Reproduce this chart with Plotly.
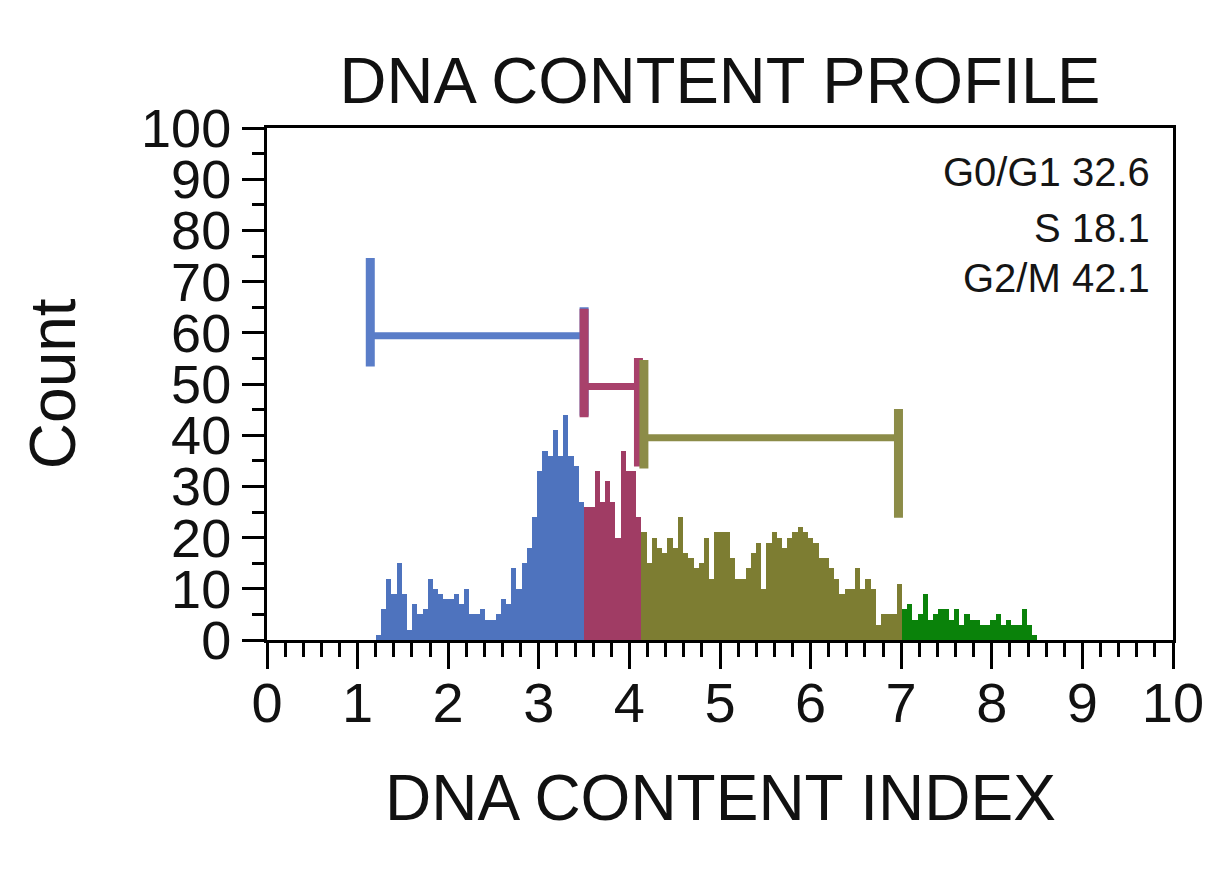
import plotly.graph_objects as go

# histogram bins (DNA content index), one count list per gate
BIN_WIDTH = 0.0575
G0G1_START = 1.20
G0G1_COUNTS = [1, 6, 12, 9, 15, 9, 2, 7, 5, 6, 12, 10, 9, 8, 8, 9, 7, 10, 5, 5,
               6, 4, 4, 5, 8, 7, 14, 10, 15, 18, 24, 33, 37, 36, 41, 36, 44, 36, 34, 27]
S_COUNTS = [26, 26, 33, 27, 31, 27, 20, 37, 33, 33, 24]
G2M_COUNTS = [21, 15, 20, 18, 17, 20, 18, 24, 17, 16, 14, 15, 20, 12, 21, 21, 21, 16, 12, 12,
              14, 17, 19, 10, 19, 21, 20, 18, 20, 21, 22, 21, 20, 19, 16, 16, 14, 12, 9, 10,
              10, 14, 10, 12, 10, 3, 5, 5, 5, 11]
TAIL_COUNTS = [6, 7, 4, 5, 9, 4, 5, 6, 6, 4, 6, 3, 5, 4, 4, 3, 3, 4, 5, 3, 4, 3, 3, 6, 3, 1]

# gate markers: (left, right, level)
GATES = {
    "G0/G1": (1.14, 3.50, 59.4),
    "S": (3.50, 4.10, 49.5),
    "G2/M": (4.16, 6.97, 39.5),
}
STATS = [("G0/G1", 32.6), ("S", 18.1), ("G2/M", 42.1)]

BAR_COLORS = ["#4E73BE", "#A03C64", "#7D7D32", "#0A820A"]
GATE_COLORS = {"G0/G1": "#5A7DC8", "S": "#A8416B", "G2/M": "#8C8C48"}
FONT = "Liberation Sans, Arial, sans-serif"

fig = go.Figure()

start = G0G1_START
for counts, color in zip([G0G1_COUNTS, S_COUNTS, G2M_COUNTS, TAIL_COUNTS], BAR_COLORS):
    fig.add_trace(go.Bar(
        y=counts, x0=start + BIN_WIDTH / 2, dx=BIN_WIDTH, width=BIN_WIDTH,
        marker=dict(color=color, line=dict(width=0)), showlegend=False,
    ))
    start += len(counts) * BIN_WIDTH

for name, (xl, xr, lvl) in GATES.items():
    c = GATE_COLORS[name]
    fig.add_trace(go.Scatter(x=[xl, xr], y=[lvl, lvl], mode="lines",
                             line=dict(color=c, width=7), showlegend=False))
    fig.add_trace(go.Scatter(x=[xl, xl], y=[lvl - 6, lvl + 15.2], mode="lines",
                             line=dict(color=c, width=9), showlegend=False))
    fig.add_trace(go.Scatter(x=[xr, xr], y=[lvl - 15.6, lvl + 5.6], mode="lines",
                             line=dict(color=c, width=9), showlegend=False))

stat_y = [0.914, 0.805, 0.707]
for (name, val), yy in zip(STATS, stat_y):
    fig.add_annotation(text=f"{name} {val}", x=0.977, y=yy, xref="paper", yref="paper",
                       xanchor="right", yanchor="middle", showarrow=False,
                       font=dict(family=FONT, size=40, color="#151515"))

fig.add_annotation(text="DNA CONTENT INDEX", x=0.5, y=-0.309, xref="paper", yref="paper",
                   xanchor="center", yanchor="middle", showarrow=False,
                   font=dict(family=FONT, size=64, color="#111111"))
fig.add_annotation(text="Count", x=-0.236, y=0.5, xref="paper", yref="paper",
                   textangle=-90, xanchor="center", yanchor="middle", showarrow=False,
                   font=dict(family=FONT, size=64, color="#111111"))

axis_common = dict(
    showline=True, linecolor="black", linewidth=3, mirror=True,
    showgrid=False, zeroline=False, ticks="outside", tickcolor="black", tickwidth=3,
)
fig.update_xaxes(range=[0, 10], dtick=1, ticklen=26, ticklabelstandoff=-14,
                 minor=dict(dtick=0.2, ticks="outside", ticklen=14, tickwidth=3, tickcolor="black"),
                 tickfont=dict(family=FONT, size=56, color="#111111"), **axis_common)
fig.update_yaxes(range=[0, 100], dtick=10, ticklen=22,
                 minor=dict(dtick=5, ticks="outside", ticklen=12, tickwidth=3, tickcolor="black"),
                 tickfont=dict(family=FONT, size=54, color="#111111"), **axis_common)

# page has an 8px body margin, so shrink the figure to keep the plot box in place
fig.update_layout(
    width=1218, height=880,
    margin=dict(l=259, r=53, t=120, b=248),
    paper_bgcolor="white", plot_bgcolor="white",
    barmode="overlay", bargap=0,
    title=dict(text="DNA CONTENT PROFILE", x=0.5, xref="paper", xanchor="center",
               y=1 - 72 / 880, yanchor="middle",
               font=dict(family=FONT, size=65, color="#111111")),
)

fig.write_html("out.html")
